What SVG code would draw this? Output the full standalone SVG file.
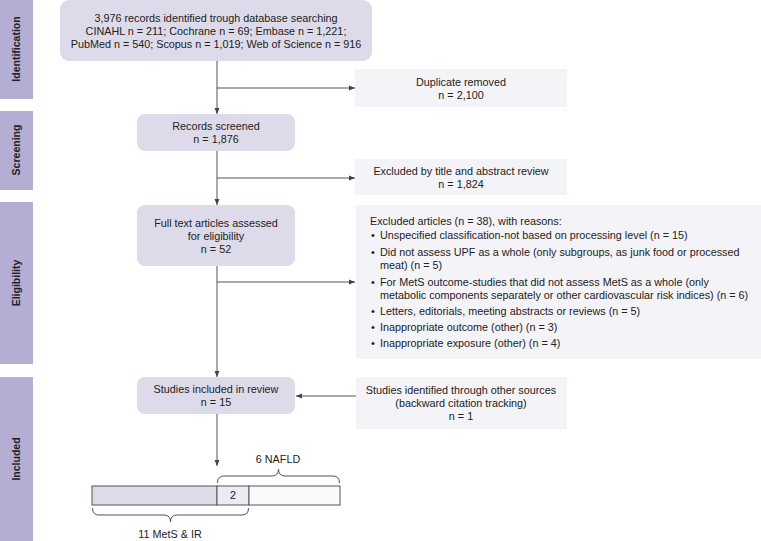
<svg xmlns="http://www.w3.org/2000/svg" width="761" height="541" viewBox="0 0 761 541">
<style>
text{font-family:"Liberation Sans",Arial,sans-serif;font-size:10.8px;fill:#222}
.c{text-anchor:middle}
.side{fill:#b4aed5}
.side-t{font-weight:bold;font-size:10.5px;text-anchor:middle}
.node{fill:#dddbea}
.note{fill:#f4f3f8}
.ln{stroke:#555;stroke-width:1;fill:none}
.bar{stroke:#555;stroke-width:1}
</style>
<defs>
<marker id="ah" markerWidth="6" markerHeight="6" refX="6" refY="3" orient="auto" markerUnits="userSpaceOnUse">
<path d="M0,0.5 L6,3 L0,5.5 z" fill="#444"/>
</marker>
</defs>

<g id="phases">
<rect class="side" x="0" y="0" width="33" height="99"/>
<text class="side-t" transform="translate(20,49) rotate(-90)">Identification</text>
<rect class="side" x="0" y="111" width="33" height="79"/>
<text class="side-t" transform="translate(20,150) rotate(-90)">Screening</text>
<rect class="side" x="0" y="202" width="33" height="162"/>
<text class="side-t" transform="translate(20,283) rotate(-90)">Eligibility</text>
<rect class="side" x="0" y="377" width="33" height="164"/>
<text class="side-t" transform="translate(20,459) rotate(-90)">Included</text>
</g>

<g id="connectors">
<line class="ln" x1="217" y1="61" x2="217" y2="114" marker-end="url(#ah)"/>
<line class="ln" x1="217" y1="88" x2="355" y2="88" marker-end="url(#ah)"/>
<line class="ln" x1="217" y1="151" x2="217" y2="205" marker-end="url(#ah)"/>
<line class="ln" x1="217" y1="178" x2="355" y2="178" marker-end="url(#ah)"/>
<line class="ln" x1="217" y1="266" x2="217" y2="377" marker-end="url(#ah)"/>
<line class="ln" x1="217" y1="282" x2="355" y2="282" marker-end="url(#ah)"/>
<line class="ln" x1="356" y1="396" x2="296" y2="396" marker-end="url(#ah)"/>
<line class="ln" x1="217" y1="414" x2="217" y2="466" marker-end="url(#ah)"/>
</g>

<g id="records-identified">
<rect class="node" x="60" y="0" width="312" height="61" rx="9"/>
<text class="c" x="216" y="21.5">3,976 records identified trough database searching</text>
<text class="c" x="216" y="34.5">CINAHL n = 211; Cochrane n = 69; Embase n = 1,221;</text>
<text class="c" x="216" y="47.5">PubMed n = 540; Scopus n = 1,019; Web of Science n = 916</text>
</g>

<g id="duplicates">
<rect class="note" x="355" y="69" width="212" height="38"/>
<text class="c" x="461" y="85.5">Duplicate removed</text>
<text class="c" x="461" y="98.5">n = 2,100</text>
</g>

<g id="records-screened">
<rect class="node" x="137" y="114" width="158" height="37" rx="8"/>
<text class="c" x="216" y="130">Records screened</text>
<text class="c" x="216" y="143">n = 1,876</text>
</g>

<g id="excluded-title">
<rect class="note" x="355" y="159" width="212" height="36"/>
<text class="c" x="461" y="174.5">Excluded by title and abstract review</text>
<text class="c" x="461" y="187.5">n = 1,824</text>
</g>

<g id="full-text">
<rect class="node" x="137" y="205" width="158" height="61" rx="8"/>
<text class="c" x="216" y="226.5">Full text articles assessed</text>
<text class="c" x="216" y="239.5">for eligibility</text>
<text class="c" x="216" y="252.5">n = 52</text>
</g>

<g id="excluded-articles">
<rect class="note" x="356" y="205" width="405" height="154"/>
<text x="370" y="225">Excluded articles (n = 38), with reasons:</text>
<text x="371" y="239">•</text><text x="380" y="239">Unspecified classification-not based on processing level (n = 15)</text>
<text x="371" y="256">•</text><text x="380" y="256">Did not assess UPF as a whole (only subgroups, as junk food or processed</text>
<text x="380" y="269">meat) (n = 5)</text>
<text x="371" y="286">•</text><text x="380" y="286">For MetS outcome-studies that did not assess MetS as a whole (only</text>
<text x="380" y="299">metabolic components separately or other cardiovascular risk indices) (n = 6)</text>
<text x="371" y="315">•</text><text x="380" y="315">Letters, editorials, meeting abstracts or reviews (n = 5)</text>
<text x="371" y="331">•</text><text x="380" y="331">Inappropriate outcome (other) (n = 3)</text>
<text x="371" y="347">•</text><text x="380" y="347">Inappropriate exposure (other) (n = 4)</text>
</g>

<g id="studies-included">
<rect class="node" x="137" y="377" width="158" height="37" rx="8"/>
<text class="c" x="216" y="393">Studies included in review</text>
<text class="c" x="216" y="406">n = 15</text>
</g>

<g id="other-sources">
<rect class="note" x="356" y="377" width="211" height="52"/>
<text class="c" x="461" y="394">Studies identified through other sources</text>
<text class="c" x="461" y="407">(backward citation tracking)</text>
<text class="c" x="461" y="420">n = 1</text>
</g>

<g id="outcome-bar">
<rect class="bar" x="92" y="486" width="125" height="19" fill="#dddbea"/>
<rect class="bar" x="217" y="486" width="32" height="19" fill="#ecebf4"/>
<rect class="bar" x="249" y="486" width="91" height="19" fill="#fafafa"/>
<text class="c" x="233" y="499">2</text>
<path class="ln" stroke="#444" d="M217.5,483 Q217.5,476 224,476 L272,476 Q278.5,476 278.5,469 Q278.5,476 285,476 L333,476 Q339.5,476 339.5,483"/>
<text class="c" x="278" y="463">6 NAFLD</text>
<path class="ln" stroke="#444" d="M92.5,508 Q92.5,515 99,515 L164,515 Q170.5,515 170.5,522 Q170.5,515 177,515 L242,515 Q248.5,515 248.5,508"/>
<text class="c" x="170" y="538">11 MetS &amp; IR</text>
</g>
</svg>
